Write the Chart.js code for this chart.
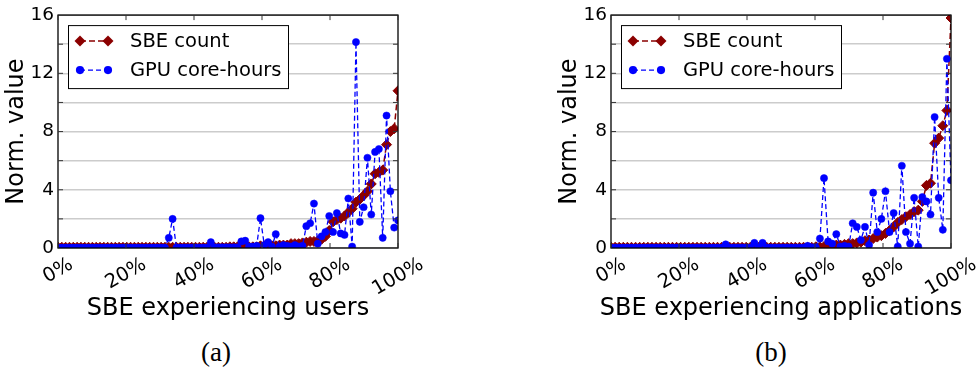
<!DOCTYPE html>
<html>
<head>
<meta charset="utf-8">
<script src="https://cdn.jsdelivr.net/npm/chart.js@4.4.0/dist/chart.umd.min.js"></script>
<style>
  body { margin: 0; background: #fff; width: 977px; height: 371px; position: relative; overflow: hidden; }
  canvas { position: absolute; top: 0; }
  #usersChart { left: 0; }
  #appsChart { left: 489px; }
  .sub { position: absolute; top: 339px; font-family: 'Liberation Serif', serif; font-size: 27px; line-height: 27px; transform: translateX(-50%); }
</style>
</head>
<body>
<canvas id="usersChart" width="488" height="330"></canvas>
<canvas id="appsChart" width="488" height="330"></canvas>
<div class="sub" style="left:216px">(a)</div>
<div class="sub" style="left:771px">(b)</div>
<script>
// normalized values, users / applications sorted by SBE count (x = rank in %)
const sbeUsers = [
  0.05, 0.05, 0.05, 0.05, 0.05, 0.05, 0.05, 0.05, 0.05, 0.05,
  0.05, 0.05, 0.05, 0.05, 0.05, 0.05, 0.05, 0.05, 0.05, 0.05,
  0.05, 0.05, 0.05, 0.05, 0.05, 0.05, 0.05, 0.05, 0.05, 0.05,
  0.05, 0.05, 0.05, 0.05, 0.05, 0.05, 0.05, 0.05, 0.05, 0.05,
  0.05, 0.05, 0.05, 0.05, 0.05, 0.08, 0.08, 0.08, 0.08, 0.08,
  0.08, 0.08, 0.08, 0.15, 0.15, 0.15, 0.15, 0.15, 0.2, 0.2,
  0.2, 0.3, 0.3, 0.3, 0.35, 0.4, 0.45, 0.45, 0.5, 0.6,
  0.8, 1.2, 1.8, 1.95, 2.05, 2.2, 2.45, 2.7, 3.15, 3.35,
  3.6, 3.9, 4.4, 5.1, 5.2, 5.35, 7.1, 8.0, 8.2, 10.8
];
const gpuUsers = [
  0.02, 0.02, 0.02, 0.02, 0.02, 0.02, 0.02, 0.02, 0.02, 0.02,
  0.02, 0.02, 0.02, 0.02, 0.02, 0.02, 0.02, 0.02, 0.02, 0.02,
  0.02, 0.02, 0.02, 0.02, 0.02, 0.02, 0.02, 0.02, 0.02, 0.7,
  2.0, 0.03, 0.03, 0.03, 0.03, 0.03, 0.03, 0.03, 0.03, 0.03,
  0.4, 0.05, 0.05, 0.05, 0.05, 0.05, 0.05, 0.05, 0.45, 0.5,
  0.1, 0.1, 0.15, 2.05, 0.2, 0.4, 0.1, 0.95, 0.1, 0.2,
  0.15, 0.1, 0.2, 0.1, 0.15, 1.5, 1.7, 3.05, 0.3, 0.8,
  1.1, 2.2, 1.1, 2.4, 1.0, 0.9, 3.4, 0.1, 14.15, 1.8,
  2.8, 6.2, 2.3, 6.6, 6.8, 0.7, 9.1, 3.9, 1.4, 1.9
];
const sbeApps = [
  0.05, 0.05, 0.05, 0.05, 0.05, 0.05, 0.05, 0.05, 0.05, 0.05,
  0.05, 0.05, 0.05, 0.05, 0.05, 0.05, 0.05, 0.05, 0.05, 0.05,
  0.05, 0.05, 0.05, 0.05, 0.05, 0.05, 0.05, 0.05, 0.05, 0.05,
  0.05, 0.05, 0.05, 0.05, 0.05, 0.05, 0.05, 0.05, 0.05, 0.05,
  0.05, 0.05, 0.05, 0.05, 0.05, 0.05, 0.05, 0.05, 0.05, 0.05,
  0.08, 0.08, 0.1, 0.15, 0.15, 0.2, 0.2, 0.25, 0.3, 0.3,
  0.35, 0.4, 0.5, 0.55, 0.65, 0.75, 0.85, 1.0, 1.2, 1.45,
  1.75, 1.95, 2.15, 2.3, 2.5, 2.6, 3.2, 4.3, 4.45, 7.2,
  7.55, 8.4, 9.45, 15.8
];
const gpuApps = [
  0.02, 0.02, 0.02, 0.02, 0.02, 0.02, 0.02, 0.02, 0.02, 0.02,
  0.02, 0.02, 0.02, 0.02, 0.02, 0.02, 0.02, 0.02, 0.02, 0.02,
  0.02, 0.02, 0.02, 0.02, 0.02, 0.02, 0.02, 0.02, 0.25, 0.03,
  0.03, 0.03, 0.03, 0.03, 0.03, 0.35, 0.05, 0.35, 0.03, 0.03,
  0.03, 0.03, 0.03, 0.03, 0.03, 0.03, 0.03, 0.03, 0.15, 0.05,
  0.05, 0.65, 4.8, 0.45, 0.3, 0.95, 0.1, 0.15, 0.1, 1.7,
  1.45, 0.55, 1.45, 0.2, 3.8, 1.1, 2.0, 3.9, 1.1, 2.4,
  0.1, 5.65, 1.1, 0.3, 3.45, 0.1, 3.5, 3.2, 2.3, 9.0,
  3.45, 1.25, 13.0, 4.65
];
const seriesNames = ['SBE count', 'GPU core-hours'];
const xTickValues = [0, 20, 40, 60, 80, 100];
const xTickLabels = ['0%', '20%', '40%', '60%', '80%', '100%'];

const FONT = "'DejaVu Sans', sans-serif";

function drawMarker(ctx, style, x, y, r) {
  ctx.beginPath();
  if (style === 'rectRot') {
    ctx.moveTo(x, y - r);
    ctx.lineTo(x + r, y);
    ctx.lineTo(x, y + r);
    ctx.lineTo(x - r, y);
    ctx.closePath();
  } else {
    ctx.arc(x, y, r, 0, Math.PI * 2);
  }
  ctx.fill();
}

// frame, inward ticks, rotated x labels, titles and the boxed legend
const axesDecor = {
  id: 'axesDecor',
  afterDraw(chart, args, opts) {
    const ctx = chart.ctx;
    const a = chart.chartArea;
    const xs = chart.scales.x, ys = chart.scales.y;
    ctx.save();

    ctx.strokeStyle = '#000';
    ctx.lineWidth = 1.3;
    ctx.strokeRect(a.left, a.top, a.right - a.left, a.bottom - a.top);

    ctx.strokeStyle = '#333';
    ctx.lineWidth = 1;
    ctx.beginPath();
    for (let v = 2; v < 16; v += 2) {
      const py = ys.getPixelForValue(v);
      ctx.moveTo(a.left, py); ctx.lineTo(a.left + 5, py);
      ctx.moveTo(a.right, py); ctx.lineTo(a.right - 5, py);
    }
    xTickValues.forEach(v => {
      const px = xs.getPixelForValue(v);
      ctx.moveTo(px, a.bottom); ctx.lineTo(px, a.bottom - 5);
      ctx.moveTo(px, a.top); ctx.lineTo(px, a.top + 5);
    });
    ctx.stroke();

    // x tick labels, rotated 30 degrees and centred under each tick
    ctx.fillStyle = '#000';
    ctx.font = '19.5px ' + FONT;
    ctx.textAlign = 'center';
    ctx.textBaseline = 'middle';
    xTickValues.forEach((v, i) => {
      const px = xs.getPixelForValue(v);
      const w = ctx.measureText(xTickLabels[i]).width;
      const boxH = w * 0.5 + 14 * 0.866;
      ctx.save();
      ctx.translate(px, a.bottom + 9 + boxH / 2);
      ctx.rotate(-Math.PI / 6);
      ctx.fillText(xTickLabels[i], 0, 0);
      ctx.restore();
    });

    // axis titles
    ctx.font = '24px ' + FONT;
    ctx.textBaseline = 'alphabetic';
    ctx.fillText(opts.xTitle, (a.left + a.right) / 2, 315);
    ctx.save();
    ctx.translate(a.left - 41, (a.top + a.bottom) / 2);
    ctx.rotate(-Math.PI / 2);
    ctx.textBaseline = 'middle';
    ctx.fillText('Norm. value', 0, 0);
    ctx.restore();

    // legend box
    const lx = a.left + 10, ly = a.top + 10;
    ctx.fillStyle = '#fff';
    ctx.fillRect(lx, ly, 220, 63);
    ctx.strokeStyle = '#000';
    ctx.lineWidth = 1;
    ctx.strokeRect(lx + 0.5, ly + 0.5, 220, 63);
    ctx.font = '19.5px ' + FONT;
    ctx.textAlign = 'left';
    ctx.textBaseline = 'middle';
    chart.data.datasets.forEach((ds, k) => {
      const ry = ly + 16 + k * 29;
      ctx.strokeStyle = ds.borderColor;
      ctx.lineWidth = ds.borderWidth;
      ctx.setLineDash(ds.borderDash);
      ctx.beginPath();
      ctx.moveTo(lx + 12, ry); ctx.lineTo(lx + 40, ry);
      ctx.stroke();
      ctx.setLineDash([]);
      ctx.fillStyle = ds.borderColor;
      drawMarker(ctx, ds.pointStyle, lx + 12, ry, ds.pointRadius + 0.5);
      drawMarker(ctx, ds.pointStyle, lx + 40, ry, ds.pointRadius + 0.5);
      ctx.fillStyle = '#000';
      ctx.fillText(ds.label, lx + 62, ry + 1);
    });
    ctx.restore();
  }
};

function buildChart(id, xTitle, sbe, gpu, axisWidth, padRight) {
  const toPoints = vals => vals.map((v, i) => ({ x: i * 100 / (vals.length - 1), y: v }));
  return new Chart(document.getElementById(id), {
    type: 'line',
    data: {
      datasets: [
        {
          label: seriesNames[0],
          data: toPoints(sbe),
          borderColor: '#8b0000',
          backgroundColor: '#8b0000',
          borderWidth: 1.5,
          borderDash: [6, 3],
          pointStyle: 'rectRot',
          pointRadius: 5,
          pointBorderWidth: 1,
          order: 2,
          clip: 0,
        },
        {
          label: seriesNames[1],
          data: toPoints(gpu),
          borderColor: '#0000ff',
          backgroundColor: '#0000ff',
          borderWidth: 1.3,
          borderDash: [5, 3],
          pointStyle: 'circle',
          pointRadius: 3.6,
          pointBorderWidth: 0.5,
          order: 1,
          clip: 0,
        },
      ],
    },
    options: {
      responsive: false,
      animation: false,
      devicePixelRatio: 1,
      layout: { padding: { top: 15, right: padRight, left: 0, bottom: 0 } },
      plugins: {
        legend: { display: false },
        tooltip: { enabled: false },
        axesDecor: { xTitle: xTitle },
      },
      scales: {
        x: {
          type: 'linear',
          min: 0,
          max: 100,
          ticks: { display: false },
          grid: { display: false },
          border: { display: false },
          afterFit: s => { s.height = 82; },
        },
        y: {
          min: 0,
          max: 16,
          ticks: {
            stepSize: 2,
            padding: 4,
            color: '#000',
            font: { family: FONT, size: 18.5 },
            callback: v => (v % 4 === 0 ? v : ''),
          },
          grid: { color: '#cccccc', lineWidth: 1.5, drawTicks: false },
          border: { display: false },
          afterFit: s => { s.width = axisWidth; },
        },
      },
    },
    plugins: [axesDecor],
  });
}

buildChart('usersChart', 'SBE experiencing users', sbeUsers, gpuUsers, 58, 90);
buildChart('appsChart', 'SBE experiencing applications', sbeApps, gpuApps, 122, 26);
</script>
</body>
</html>
